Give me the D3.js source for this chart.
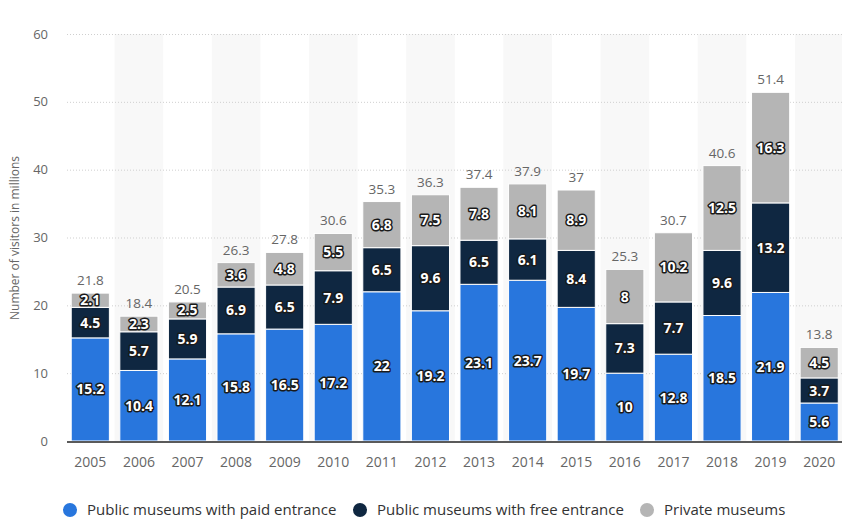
<!DOCTYPE html>
<html><head><meta charset="utf-8">
<script src="https://cdn.jsdelivr.net/npm/d3@7"></script>
<style>
body{margin:0;background:#fff;}
svg{display:block;font-family:"Open Sans",sans-serif;}
.vl{font-weight:bold;fill:#fff;stroke:#1a1a1a;stroke-width:3px;paint-order:stroke;stroke-linejoin:round;}
</style></head>
<body>
<svg id="c" width="842" height="521"></svg>
<script>
const years = ["2005","2006","2007","2008","2009","2010","2011","2012","2013","2014","2015","2016","2017","2018","2019","2020"];
const paid = [15.2,10.4,12.1,15.8,16.5,17.2,22,19.2,23.1,23.7,19.7,10,12.8,18.5,21.9,5.6];
const free = [4.5,5.7,5.9,6.9,6.5,7.9,6.5,9.6,6.5,6.1,8.4,7.3,7.7,9.6,13.2,3.7];
const priv = [2.1,2.3,2.5,3.6,4.8,5.5,6.8,7.5,7.8,8.1,8.9,8,10.2,12.5,16.3,4.5];
const totals = [21.8,18.4,20.5,26.3,27.8,30.6,35.3,36.3,37.4,37.9,37,25.3,30.7,40.6,51.4,13.8];
const yTicks = [0,10,20,30,40,50,60];
const seriesNames = ["Public museums with paid entrance","Public museums with free entrance","Private museums"];
const colors = ["#2876dd","#0f2741","#b5b5b5"];

const svg = d3.select("#c");
const x = d3.scaleBand().domain(years).range([66,843.5]).paddingInner(0.215).paddingOuter(0.1075);
const y = d3.scaleLinear().domain([0,60]).range([441,34]);

// alternating bands
const step = x.step();
svg.append("g").selectAll("rect").data(years.filter((d,i)=>i%2===1)).join("rect")
  .attr("x",d=>x(d)-x.paddingInner()*step/2).attr("width",step)
  .attr("y",y(60)).attr("height",y(0)-y(60)).attr("fill","#f8f8f8");

// gridlines
svg.append("g").selectAll("line").data(yTicks.filter(t=>t>0)).join("line")
  .attr("x1",67).attr("x2",842).attr("y1",d=>y(d)+0.5).attr("y2",d=>y(d)+0.5)
  .attr("stroke","#cfcfcf").attr("stroke-dasharray","1,2");

// y tick labels
svg.append("g").selectAll("text").data(yTicks).join("text")
  .attr("x",48).attr("y",d=>y(d)).attr("dy","0.35em").attr("text-anchor","end")
  .attr("font-size",13).attr("fill","#666").text(d=>d);

// y title
svg.append("text").attr("transform","translate(19,238) rotate(-90)")
  .attr("text-anchor","middle").attr("font-size",12).attr("fill","#666")
  .text("Number of visitors in millions");

// stacks
const data = years.map((yr,i)=>({year:yr,paid:paid[i],free:free[i],priv:priv[i]}));
const stack = d3.stack().keys(["paid","free","priv"])(data);
const g = svg.append("g");
stack.forEach((s,si)=>{
  g.append("g").selectAll("rect").data(s).join("rect")
    .attr("x",d=>x(d.data.year)).attr("width",x.bandwidth())
    .attr("y",d=>y(d[1])).attr("height",d=>y(d[0])-y(d[1]))
    .attr("fill",colors[si]).attr("stroke","#fff").attr("stroke-width",1);
});
stack.forEach((s,si)=>{
  g.append("g").selectAll("text").data(s).join("text").attr("class","vl")
    .attr("x",d=>x(d.data.year)+x.bandwidth()/2)
    .attr("y",d=>(y(d[0])+y(d[1]))/2).attr("dy","0.36em")
    .attr("text-anchor","middle").attr("font-size",14)
    .text(d=>d3.format("")(+(d[1]-d[0]).toFixed(1)));
});

// totals
svg.append("g").selectAll("text").data(years).join("text")
  .attr("x",d=>x(d)+x.bandwidth()/2).attr("y",(d,i)=>y(totals[i])-8)
  .attr("text-anchor","middle").attr("font-size",13.5).attr("fill","#666")
  .text((d,i)=>totals[i]);

// axis line
svg.append("line").attr("x1",67).attr("x2",842).attr("y1",442).attr("y2",442)
  .attr("stroke","#5a5a5a").attr("stroke-width",2);

// x labels
svg.append("g").selectAll("text").data(years).join("text")
  .attr("x",d=>x(d)+x.bandwidth()/2).attr("y",462).attr("dy","0.35em")
  .attr("text-anchor","middle").attr("font-size",14).attr("fill","#666").text(d=>d);

// legend
const lx = [70,360,647];
const lg = svg.append("g").selectAll("g").data(seriesNames).join("g")
  .attr("transform",(d,i)=>`translate(${lx[i]},510)`);
lg.append("circle").attr("r",7).attr("fill",(d,i)=>colors[i]);
lg.append("text").attr("x",17).attr("dy","0.35em").attr("font-size",15).attr("fill","#333").text(d=>d);
</script>
</body></html>
